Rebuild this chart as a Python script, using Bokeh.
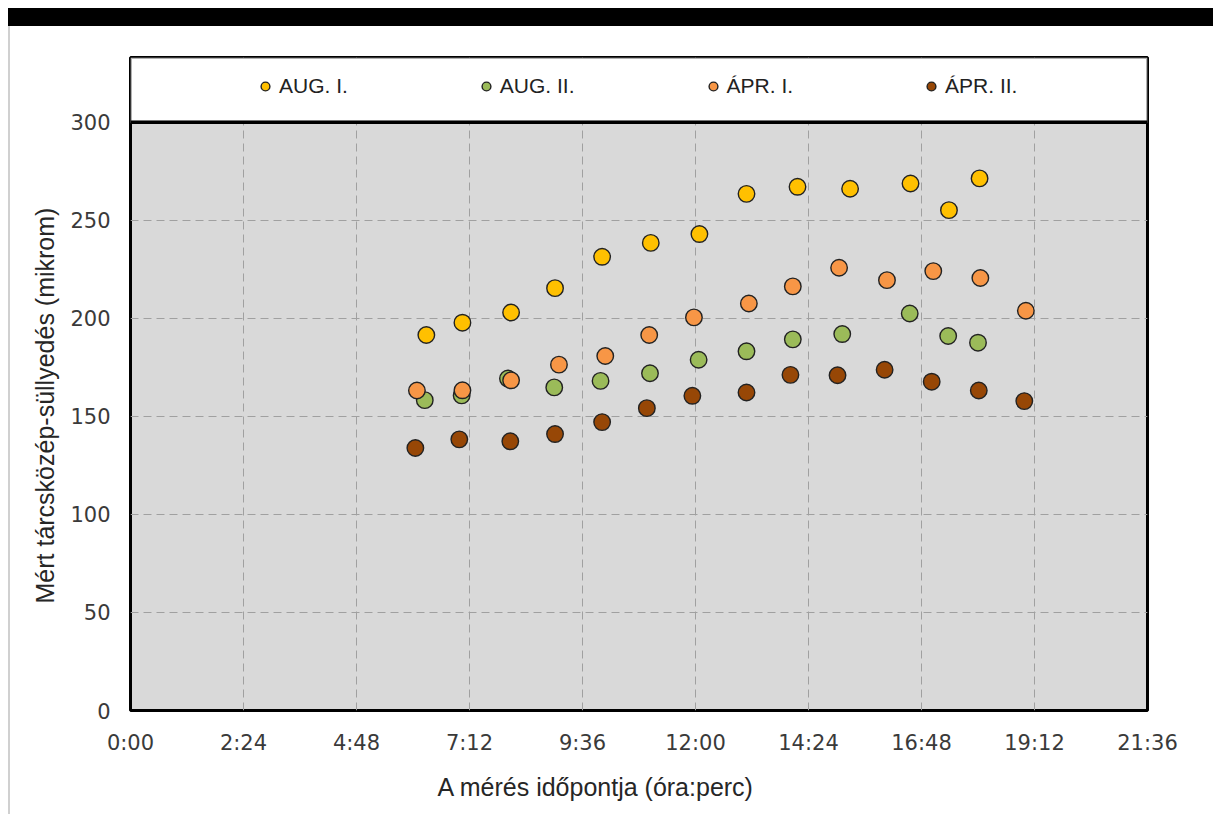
from bokeh.plotting import figure
from bokeh.models import (Range1d, FixedTicker, BoxAnnotation, Legend, LegendItem,
                          Title, Div, Span)
from bokeh.layouts import column, row
from bokeh.embed import file_html
from bokeh.resources import INLINE

# ---------------- data ----------------
series_names = ["AUG. I.", "AUG. II.", "ÁPR. I.", "ÁPR. II."]
series_colors = ["#FFC000", "#9BBB59", "#F79646", "#974706"]

aug1_time = ["6:17", "7:03", "8:05", "9:01", "10:01", "11:03", "12:05",
             "13:05", "14:10", "15:17", "16:34", "17:23", "18:02"]
aug1_val = [191.5, 197.8, 203.0, 215.4, 231.4, 238.5, 243.0,
            263.5, 267.1, 266.1, 268.8, 255.2, 271.4]

aug2_time = ["6:15", "7:02", "8:01", "9:00", "9:59", "11:02", "12:04",
             "13:05", "14:04", "15:07", "16:33", "17:22", "18:00"]
aug2_val = [158.3, 160.7, 169.3, 164.8, 168.1, 172.0, 178.9,
            183.2, 189.3, 192.0, 202.5, 191.0, 187.6]

apr1_time = ["6:05", "7:03", "8:05", "9:06", "10:05", "11:01", "11:58",
             "13:08", "14:04", "15:03", "16:04", "17:03", "18:03", "19:01"]
apr1_val = [163.2, 163.3, 168.4, 176.4, 180.8, 191.5, 200.5,
            207.6, 216.3, 225.8, 219.5, 224.1, 220.6, 203.9]

apr2_time = ["6:03", "6:59", "8:04", "9:01", "10:01", "10:58", "11:56",
             "13:05", "14:01", "15:01", "16:01", "17:01", "18:01", "18:59"]
apr2_val = [133.9, 138.3, 137.3, 141.0, 147.1, 154.2, 160.5,
            162.2, 171.2, 171.0, 173.8, 167.7, 163.2, 157.8]

x_tick_labels = ["0:00", "2:24", "4:48", "7:12", "9:36", "12:00",
                 "14:24", "16:48", "19:12", "21:36"]
y_ticks = [0, 50, 100, 150, 200, 250, 300]

x_title = "A mérés időpontja (óra:perc)"
y_title = "Mért tárcsközép-süllyedés (mikrom)"


def to_min(s):
    h, m = s.split(":")
    return int(h) * 60 + int(m)


x_ticks = [to_min(s) for s in x_tick_labels]
series = [
    ([to_min(t) for t in aug1_time], aug1_val),
    ([to_min(t) for t in aug2_time], aug2_val),
    ([to_min(t) for t in apr1_time], apr1_val),
    ([to_min(t) for t in apr2_time], apr2_val),
]

# ---------------- figure ----------------
Y_TOP = 300 * 655 / 590.0   # extra room for the legend box inside the frame

p = figure(width=1195, height=788, output_backend="svg", toolbar_location=None,
           x_range=Range1d(0, x_ticks[-1]), y_range=Range1d(0, Y_TOP),
           min_border_left=120, min_border_right=58, min_border_top=31,
           min_border_bottom=102)
p.background_fill_color = "#D9D9D9"
p.border_fill_color = "white"
p.outline_line_color = "black"
p.outline_line_width = 3

# grid
p.xgrid.ticker = FixedTicker(ticks=x_ticks)
p.ygrid.ticker = FixedTicker(ticks=y_ticks)
for g in (p.xgrid, p.ygrid):
    g.grid_line_color = "#A0A0A0"
    g.grid_line_dash = "8 5"
    g.grid_line_width = 1

# axes
p.xaxis.ticker = FixedTicker(ticks=x_ticks)
p.xaxis.major_label_overrides = {t: l for t, l in zip(x_ticks, x_tick_labels)}
p.yaxis.ticker = FixedTicker(ticks=y_ticks)
for ax in (p.xaxis, p.yaxis):
    ax.axis_line_color = None
    ax.major_tick_line_color = None
    ax.minor_tick_line_color = None
    ax.major_tick_out = 0
    ax.major_tick_in = 0
    ax.major_label_standoff = 20
    ax.major_label_text_font = "DejaVu Sans"
    ax.major_label_text_font_size = "21px"
    ax.major_label_text_color = "#3A3A3A"

# data
renderers = []
for (xs, ys), c in zip(series, series_colors):
    r = p.scatter(xs, ys, size=16.5, marker="circle", fill_color=c,
                  line_color="#222222", line_width=1.4)
    renderers.append(r)

# legend box (white, black border) inside the top of the frame
box = BoxAnnotation(left=0, right=x_ticks[-1], bottom=300, top=Y_TOP,
                    fill_color="white", fill_alpha=1.0,
                    line_color="black", line_width=3)
p.add_layout(box)
p.add_layout(Span(location=300, dimension="width", line_color="black",
                  line_width=3.5))

legend = Legend(items=[LegendItem(label=n, renderers=[r])
                       for n, r in zip(series_names, renderers)],
                orientation="horizontal", location=(124, 612),
                padding=0, margin=0, spacing=127,
                glyph_width=22, glyph_height=22, label_standoff=3,
                label_width=0, label_height=22,
                label_text_font="Liberation Sans", label_text_font_size="21px",
                label_text_color="#222222",
                background_fill_alpha=0, border_line_alpha=0)
p.add_layout(legend)

# axis titles
xt = Title(text=x_title, align="left", offset=307, standoff=27,
           text_font="Liberation Sans", text_font_size="25px",
           text_font_style="normal", text_color="#262626")
p.add_layout(xt, "below")
yt = Title(text=y_title, align="left", offset=107, standoff=17,
           text_font="Liberation Sans", text_font_size="25px",
           text_font_style="normal", text_color="#262626")
p.add_layout(yt, "left")

top_bar = Div(text="", width=1205, height=18, margin=0,
              styles={"background-color": "#000000"})
left_line = Div(text="", width=2, height=788, margin=0,
                styles={"background-color": "#D0D0D0"})

layout = column(top_bar, row(left_line, p, spacing=0), spacing=0,
                margin=(8, 0, 8, 8))

open("out.html", "w").write(file_html(layout, INLINE))
